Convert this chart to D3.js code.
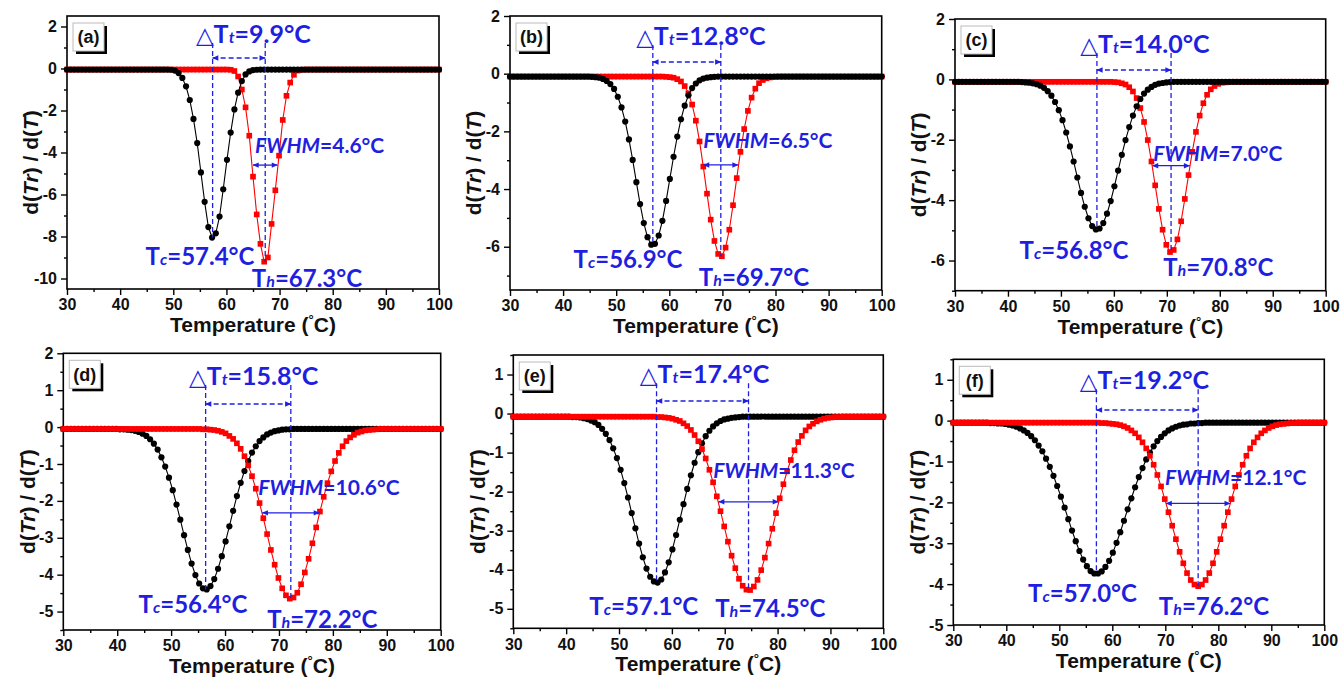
<!DOCTYPE html>
<html><head><meta charset="utf-8">
<script src="https://cdn.jsdelivr.net/npm/d3@7"></script>
<style>body{margin:0;background:#fff}svg{display:block}</style>
</head><body>
<svg id="c" width="1340" height="679"></svg>
<script>
// ---------------- DATA ----------------
const temps = [
30,30.7,31.4,32.1,32.8,33.5,34.2,34.9,35.6,36.3,
37,37.7,38.4,39.1,39.8,40.5,41.2,41.9,42.6,43.3,
44,44.7,45.4,46.1,46.8,47.5,48.2,48.9,49.6,50.3,
51,51.7,52.4,53.1,53.8,54.5,55.2,55.9,56.6,57.3,
58,58.7,59.4,60.1,60.8,61.5,62.2,62.9,63.6,64.3,
65,65.7,66.4,67.1,67.8,68.5,69.2,69.9,70.6,71.3,
72,72.7,73.4,74.1,74.8,75.5,76.2,76.9,77.6,78.3,
79,79.7,80.4,81.1,81.8,82.5,83.2,83.9,84.6,85.3,
86,86.7,87.4,88.1,88.8,89.5,90.2,90.9,91.6,92.3,
93,93.7,94.4,95.1,95.8,96.5,97.2,97.9,98.6,99.3,
100];

const coolA = [
-0.05,-0.05,-0.05,-0.05,-0.05,-0.05,-0.05,-0.05,-0.05,-0.05,
-0.05,-0.05,-0.05,-0.05,-0.05,-0.05,-0.05,-0.05,-0.05,-0.05,
-0.05,-0.05,-0.05,-0.05,-0.05,-0.05,-0.05,-0.05,-0.06,-0.10,
-0.22,-0.45,-0.85,-1.50,-2.40,-3.55,-4.95,-6.35,-7.55,-8.05,
-7.85,-7.05,-5.75,-4.35,-3.05,-1.95,-1.15,-0.60,-0.28,-0.14,
-0.08,-0.06,-0.05,-0.05,-0.05,-0.05,-0.05,-0.05,-0.05,-0.05,
-0.05,-0.05,-0.05,-0.05,-0.05,-0.05,-0.05,-0.05,-0.05,-0.05,
-0.05,-0.05,-0.05,-0.05,-0.05,-0.05,-0.05,-0.05,-0.05,-0.05,
-0.05,-0.05,-0.05,-0.05,-0.05,-0.05,-0.05,-0.05,-0.05,-0.05,
-0.05,-0.05,-0.05,-0.05,-0.05,-0.05,-0.05,-0.05,-0.05,-0.05,
-0.05];
const heatA = [
-0.05,-0.05,-0.05,-0.05,-0.05,-0.05,-0.05,-0.05,-0.05,-0.05,
-0.05,-0.05,-0.05,-0.05,-0.05,-0.05,-0.05,-0.05,-0.05,-0.05,
-0.05,-0.05,-0.05,-0.05,-0.05,-0.05,-0.05,-0.05,-0.05,-0.05,
-0.05,-0.05,-0.05,-0.05,-0.05,-0.05,-0.05,-0.05,-0.05,-0.05,
-0.05,-0.05,-0.05,-0.05,-0.06,-0.12,-0.38,-1.00,-1.85,-3.20,
-5.15,-6.95,-8.35,-9.20,-9.00,-7.40,-5.80,-4.15,-2.45,-1.30,
-0.67,-0.30,-0.10,-0.06,-0.05,-0.05,-0.05,-0.05,-0.05,-0.05,
-0.05,-0.05,-0.05,-0.05,-0.05,-0.05,-0.05,-0.05,-0.05,-0.05,
-0.05,-0.05,-0.05,-0.05,-0.05,-0.05,-0.05,-0.05,-0.05,-0.05,
-0.05,-0.05,-0.05,-0.05,-0.05,-0.05,-0.05,-0.05,-0.05,-0.05,
-0.05];

const coolB = [
-0.10,-0.10,-0.10,-0.10,-0.10,-0.10,-0.10,-0.10,-0.10,-0.10,
-0.10,-0.10,-0.10,-0.10,-0.10,-0.10,-0.10,-0.10,-0.10,-0.10,
-0.10,-0.10,-0.11,-0.12,-0.14,-0.18,-0.25,-0.36,-0.53,-0.80,
-1.17,-1.66,-2.28,-2.99,-3.76,-4.52,-5.18,-5.67,-5.93,-5.90,
-5.61,-5.10,-4.41,-3.65,-2.88,-2.18,-1.58,-1.11,-0.75,-0.50,
-0.34,-0.23,-0.17,-0.14,-0.12,-0.11,-0.10,-0.10,-0.10,-0.10,
-0.10,-0.10,-0.10,-0.10,-0.10,-0.10,-0.10,-0.10,-0.10,-0.10,
-0.10,-0.10,-0.10,-0.10,-0.10,-0.10,-0.10,-0.10,-0.10,-0.10,
-0.10,-0.10,-0.10,-0.10,-0.10,-0.10,-0.10,-0.10,-0.10,-0.10,
-0.10,-0.10,-0.10,-0.10,-0.10,-0.10,-0.10,-0.10,-0.10,-0.10,
-0.10];
const heatB = [
-0.10,-0.10,-0.10,-0.10,-0.10,-0.10,-0.10,-0.10,-0.10,-0.10,
-0.10,-0.10,-0.10,-0.10,-0.10,-0.10,-0.10,-0.10,-0.10,-0.10,
-0.10,-0.10,-0.10,-0.10,-0.10,-0.10,-0.10,-0.10,-0.10,-0.10,
-0.10,-0.10,-0.10,-0.10,-0.10,-0.10,-0.10,-0.10,-0.10,-0.10,
-0.10,-0.10,-0.11,-0.12,-0.14,-0.19,-0.27,-0.43,-0.68,-1.07,
-1.63,-2.35,-3.22,-4.16,-5.06,-5.80,-6.25,-6.33,-6.03,-5.41,
-4.56,-3.62,-2.71,-1.92,-1.29,-0.83,-0.52,-0.33,-0.22,-0.16,
-0.13,-0.11,-0.10,-0.10,-0.10,-0.10,-0.10,-0.10,-0.10,-0.10,
-0.10,-0.10,-0.10,-0.10,-0.10,-0.10,-0.10,-0.10,-0.10,-0.10,
-0.10,-0.10,-0.10,-0.10,-0.10,-0.10,-0.10,-0.10,-0.10,-0.10,
-0.10];

const coolC = [
-0.08,-0.08,-0.08,-0.08,-0.08,-0.08,-0.08,-0.08,-0.08,-0.08,
-0.08,-0.08,-0.08,-0.08,-0.08,-0.08,-0.08,-0.08,-0.09,-0.10,
-0.11,-0.13,-0.16,-0.21,-0.28,-0.39,-0.54,-0.75,-1.02,-1.35,
-1.76,-2.22,-2.72,-3.25,-3.76,-4.22,-4.60,-4.86,-4.97,-4.94,
-4.76,-4.45,-4.03,-3.54,-3.02,-2.50,-2.01,-1.58,-1.20,-0.89,
-0.65,-0.47,-0.34,-0.25,-0.18,-0.14,-0.12,-0.10,-0.09,-0.08,
-0.08,-0.08,-0.08,-0.08,-0.08,-0.08,-0.08,-0.08,-0.08,-0.08,
-0.08,-0.08,-0.08,-0.08,-0.08,-0.08,-0.08,-0.08,-0.08,-0.08,
-0.08,-0.08,-0.08,-0.08,-0.08,-0.08,-0.08,-0.08,-0.08,-0.08,
-0.08,-0.08,-0.08,-0.08,-0.08,-0.08,-0.08,-0.08,-0.08,-0.08,
-0.08];
const heatC = [
-0.08,-0.08,-0.08,-0.08,-0.08,-0.08,-0.08,-0.08,-0.08,-0.08,
-0.08,-0.08,-0.08,-0.08,-0.08,-0.08,-0.08,-0.08,-0.08,-0.08,
-0.08,-0.08,-0.08,-0.08,-0.08,-0.08,-0.08,-0.08,-0.08,-0.08,
-0.08,-0.08,-0.08,-0.08,-0.08,-0.08,-0.08,-0.08,-0.08,-0.08,
-0.08,-0.08,-0.08,-0.09,-0.10,-0.13,-0.17,-0.26,-0.40,-0.62,
-0.95,-1.41,-2.01,-2.72,-3.51,-4.29,-4.98,-5.48,-5.72,-5.65,
-5.30,-4.70,-3.96,-3.17,-2.40,-1.74,-1.20,-0.79,-0.51,-0.33,
-0.22,-0.15,-0.11,-0.10,-0.09,-0.08,-0.08,-0.08,-0.08,-0.08,
-0.08,-0.08,-0.08,-0.08,-0.08,-0.08,-0.08,-0.08,-0.08,-0.08,
-0.08,-0.08,-0.08,-0.08,-0.08,-0.08,-0.08,-0.08,-0.08,-0.08,
-0.08];

const coolD = [
-0.05,-0.05,-0.05,-0.05,-0.05,-0.05,-0.05,-0.05,-0.05,-0.05,
-0.05,-0.05,-0.05,-0.05,-0.05,-0.06,-0.06,-0.07,-0.08,-0.10,
-0.13,-0.18,-0.24,-0.33,-0.45,-0.61,-0.82,-1.07,-1.37,-1.71,
-2.10,-2.51,-2.93,-3.33,-3.70,-4.01,-4.24,-4.37,-4.40,-4.31,
-4.12,-3.84,-3.50,-3.10,-2.69,-2.27,-1.87,-1.51,-1.19,-0.92,
-0.69,-0.52,-0.38,-0.28,-0.20,-0.15,-0.11,-0.09,-0.07,-0.06,
-0.06,-0.05,-0.05,-0.05,-0.05,-0.05,-0.05,-0.05,-0.05,-0.05,
-0.05,-0.05,-0.05,-0.05,-0.05,-0.05,-0.05,-0.05,-0.05,-0.05,
-0.05,-0.05,-0.05,-0.05,-0.05,-0.05,-0.05,-0.05,-0.05,-0.05,
-0.05,-0.05,-0.05,-0.05,-0.05,-0.05,-0.05,-0.05,-0.05,-0.05,
-0.05];
const heatD = [
-0.05,-0.05,-0.05,-0.05,-0.05,-0.05,-0.05,-0.05,-0.05,-0.05,
-0.05,-0.05,-0.05,-0.05,-0.05,-0.05,-0.05,-0.05,-0.05,-0.05,
-0.05,-0.05,-0.05,-0.05,-0.05,-0.05,-0.05,-0.05,-0.05,-0.05,
-0.05,-0.05,-0.05,-0.05,-0.05,-0.05,-0.05,-0.06,-0.06,-0.07,
-0.08,-0.10,-0.13,-0.17,-0.24,-0.32,-0.44,-0.59,-0.79,-1.04,
-1.33,-1.67,-2.06,-2.47,-2.90,-3.33,-3.73,-4.09,-4.37,-4.56,
-4.65,-4.62,-4.49,-4.26,-3.94,-3.57,-3.15,-2.72,-2.29,-1.89,
-1.52,-1.20,-0.92,-0.70,-0.52,-0.38,-0.28,-0.21,-0.15,-0.12,
-0.09,-0.08,-0.07,-0.06,-0.05,-0.05,-0.05,-0.05,-0.05,-0.05,
-0.05,-0.05,-0.05,-0.05,-0.05,-0.05,-0.05,-0.05,-0.05,-0.05,
-0.05];

const coolE = [
-0.08,-0.08,-0.08,-0.08,-0.08,-0.08,-0.08,-0.08,-0.08,-0.08,
-0.08,-0.08,-0.08,-0.08,-0.08,-0.08,-0.09,-0.09,-0.10,-0.12,
-0.14,-0.18,-0.22,-0.29,-0.39,-0.52,-0.68,-0.89,-1.14,-1.44,
-1.78,-2.15,-2.55,-2.94,-3.33,-3.68,-3.97,-4.18,-4.30,-4.33,
-4.25,-4.07,-3.81,-3.48,-3.11,-2.72,-2.32,-1.93,-1.58,-1.26,
-0.99,-0.76,-0.58,-0.44,-0.33,-0.25,-0.19,-0.15,-0.13,-0.11,
-0.10,-0.09,-0.08,-0.08,-0.08,-0.08,-0.08,-0.08,-0.08,-0.08,
-0.08,-0.08,-0.08,-0.08,-0.08,-0.08,-0.08,-0.08,-0.08,-0.08,
-0.08,-0.08,-0.08,-0.08,-0.08,-0.08,-0.08,-0.08,-0.08,-0.08,
-0.08,-0.08,-0.08,-0.08,-0.08,-0.08,-0.08,-0.08,-0.08,-0.08,
-0.08];
const heatE = [
-0.08,-0.08,-0.08,-0.08,-0.08,-0.08,-0.08,-0.08,-0.08,-0.08,
-0.08,-0.08,-0.08,-0.08,-0.08,-0.08,-0.08,-0.08,-0.08,-0.08,
-0.08,-0.08,-0.08,-0.08,-0.08,-0.08,-0.08,-0.08,-0.08,-0.08,
-0.08,-0.08,-0.08,-0.08,-0.08,-0.08,-0.08,-0.08,-0.08,-0.09,
-0.09,-0.10,-0.11,-0.13,-0.16,-0.19,-0.25,-0.32,-0.42,-0.55,
-0.71,-0.91,-1.15,-1.44,-1.76,-2.12,-2.50,-2.89,-3.28,-3.64,
-3.96,-4.23,-4.41,-4.51,-4.52,-4.43,-4.26,-4.01,-3.69,-3.33,
-2.95,-2.55,-2.17,-1.81,-1.48,-1.19,-0.94,-0.73,-0.57,-0.43,
-0.33,-0.26,-0.20,-0.16,-0.13,-0.11,-0.10,-0.09,-0.09,-0.08,
-0.08,-0.08,-0.08,-0.08,-0.08,-0.08,-0.08,-0.08,-0.08,-0.08,
-0.08];

const coolF = [
-0.05,-0.05,-0.05,-0.05,-0.05,-0.05,-0.05,-0.05,-0.05,-0.05,
-0.06,-0.06,-0.07,-0.07,-0.08,-0.10,-0.12,-0.15,-0.19,-0.24,
-0.30,-0.38,-0.48,-0.61,-0.75,-0.93,-1.13,-1.35,-1.60,-1.86,
-2.13,-2.41,-2.69,-2.95,-3.19,-3.40,-3.56,-3.68,-3.74,-3.74,
-3.69,-3.58,-3.43,-3.23,-2.99,-2.73,-2.45,-2.17,-1.90,-1.63,
-1.38,-1.16,-0.95,-0.78,-0.63,-0.50,-0.40,-0.31,-0.24,-0.19,
-0.15,-0.12,-0.10,-0.09,-0.07,-0.07,-0.06,-0.06,-0.05,-0.05,
-0.05,-0.05,-0.05,-0.05,-0.05,-0.05,-0.05,-0.05,-0.05,-0.05,
-0.05,-0.05,-0.05,-0.05,-0.05,-0.05,-0.05,-0.05,-0.05,-0.05,
-0.05,-0.05,-0.05,-0.05,-0.05,-0.05,-0.05,-0.05,-0.05,-0.05,
-0.05];
const heatF = [
-0.05,-0.05,-0.05,-0.05,-0.05,-0.05,-0.05,-0.05,-0.05,-0.05,
-0.05,-0.05,-0.05,-0.05,-0.05,-0.05,-0.05,-0.05,-0.05,-0.05,
-0.05,-0.05,-0.05,-0.05,-0.05,-0.05,-0.05,-0.05,-0.05,-0.05,
-0.05,-0.05,-0.05,-0.05,-0.05,-0.05,-0.05,-0.05,-0.05,-0.05,
-0.06,-0.06,-0.07,-0.08,-0.09,-0.11,-0.14,-0.18,-0.24,-0.31,
-0.41,-0.53,-0.68,-0.86,-1.08,-1.33,-1.61,-1.92,-2.24,-2.57,
-2.90,-3.21,-3.49,-3.73,-3.90,-4.01,-4.05,-4.01,-3.90,-3.73,
-3.49,-3.21,-2.90,-2.57,-2.24,-1.92,-1.61,-1.33,-1.08,-0.86,
-0.68,-0.53,-0.41,-0.31,-0.24,-0.18,-0.14,-0.11,-0.09,-0.08,
-0.07,-0.06,-0.06,-0.05,-0.05,-0.05,-0.05,-0.05,-0.05,-0.05,
-0.05];

const panelTags = ["(a)","(b)","(c)","(d)","(e)","(f)"];
const Tc   = [57.4, 56.9, 56.8, 56.4, 57.1, 57.0];
const Th   = [67.3, 69.7, 70.8, 72.2, 74.5, 76.2];
const dTt  = [9.9, 12.8, 14.0, 15.8, 17.4, 19.2];
const fwhm = [4.6, 6.5, 7.0, 10.6, 11.3, 12.1];
const xTicks = [30,40,50,60,70,80,90,100];
const yTicksA = [-10,-8,-6,-4,-2,0,2];
const yTicksB = [-6,-4,-2,0,2];
const yTicksC = [-6,-4,-2,0,2];
const yTicksD = [-5,-4,-3,-2,-1,0,1,2];
const yTicksE = [-5,-4,-3,-2,-1,0,1];
const yTicksF = [-5,-4,-3,-2,-1,0,1];

const coolSeries = [coolA, coolB, coolC, coolD, coolE, coolF];
const heatSeries = [heatA, heatB, heatC, heatD, heatE, heatF];
const yTickSets = [yTicksA, yTicksB, yTicksC, yTicksD, yTicksE, yTicksF];

// ---------------- LAYOUT ----------------
const layout = [
 {x0:67,   x1:439,    y0:16,    y1:289,   yd:[-10.5,2.5], minor:1,   blackTop:true,  dtBase:27,   arrowDy:42,   tcLab:[133,249],   thLab:[240,271],     fwLab:[188,137.3]},
 {x0:510,  x1:881.7,  y0:16,    y1:290,   yd:[-7.5,2],    minor:1,   blackTop:true,  dtBase:29,   arrowDy:46,   tcLab:[118,252.3], thLab:[244,270],     fwLab:[193.3,131.7]},
 {x0:955,  x1:1325.7, y0:19,    y1:290.7, yd:[-7,2],      minor:1,   blackTop:true,  dtBase:34,   arrowDy:51,   tcLab:[119,240.3], thLab:[263.3,257],   fwLab:[198.3,141.7]},
 {x0:63.3, x1:440.7,  y0:353.3, y1:630,   yd:[-5.5,2],    minor:0.5, blackTop:false, dtBase:31.7, arrowDy:50.7, tcLab:[129.7,260], thLab:[259,275],     fwLab:[195,141.7]},
 {x0:513.3,x1:883.3,  y0:355,   y1:628.3, yd:[-5.5,1.5],  minor:0.5, blackTop:false, dtBase:28.3, arrowDy:46,   tcLab:[130.5,260], thLab:[257,261.7],   fwLab:[200,122.7]},
 {x0:953.3,x1:1324.3, y0:359.3, y1:625,   yd:[-5,1.5],    minor:0.5, blackTop:false, dtBase:30,   arrowDy:50.7, tcLab:[129.2,242.4], thLab:[260.7,255.7], fwLab:[211.7,125.7]}
];

const BLUE = "#1f1fe0";
const AXF = "'Liberation Sans', Arial, sans-serif";
const ANF = "Lato, 'Open Sans', sans-serif";

const svg = d3.select("#c");
const defs = svg.append("defs");
defs.append("marker").attr("id","ah").attr("viewBox","0 0 10 10")
  .attr("refX",9.5).attr("refY",5).attr("markerWidth",7).attr("markerHeight",6)
  .attr("markerUnits","userSpaceOnUse").attr("orient","auto-start-reverse")
  .append("path").attr("d","M0,0.5L10,5L0,9.5Z").attr("fill",BLUE);

layout.forEach((L, p) => {
  const g = svg.append("g");
  const x = d3.scaleLinear().domain([30,100]).range([L.x0, L.x1]);
  const y = d3.scaleLinear().domain(L.yd).range([L.y1, L.y0]);
  const cool = coolSeries[p], heat = heatSeries[p];

  g.append("g").attr("transform",`translate(0,${L.y1})`)
    .call(d3.axisBottom(x).tickValues(xTicks).tickSize(6).tickPadding(4).tickFormat(d=>String(d)));
  g.append("g").attr("transform",`translate(0,${L.y1})`)
    .call(d3.axisBottom(x).tickValues(d3.range(35,100,10)).tickSize(3).tickFormat(""));
  g.append("g").attr("transform",`translate(${L.x0},0)`)
    .call(d3.axisLeft(y).tickValues(yTickSets[p]).tickSize(6).tickPadding(4).tickFormat(d=>String(d)));
  const majors = new Set(yTickSets[p].map(v=>v.toFixed(2)));
  const minorVals = d3.range(Math.ceil(L.yd[0]/L.minor)*L.minor, L.yd[1]+1e-9, L.minor)
     .filter(v => !majors.has(v.toFixed(2)));
  g.append("g").attr("transform",`translate(${L.x0},0)`)
    .call(d3.axisLeft(y).tickValues(minorVals).tickSize(3).tickFormat(""));
  g.selectAll(".domain").remove();
  g.selectAll(".tick line").attr("stroke","#000").attr("stroke-width",1.4);
  g.selectAll(".tick text").attr("font-family",AXF).attr("font-weight","bold")
    .attr("font-size",16).attr("fill","#111");

  g.append("rect").attr("x",L.x0).attr("y",L.y0).attr("width",L.x1-L.x0).attr("height",L.y1-L.y0)
    .attr("fill","none").attr("stroke","#000").attr("stroke-width",1.6);

  const xt = g.append("text").attr("x",(L.x0+L.x1)/2).attr("y",L.y1+43)
    .attr("text-anchor","middle").attr("font-family",AXF).attr("font-weight","bold")
    .attr("font-size",21).attr("fill","#111");
  xt.append("tspan").text("Temperature (");
  xt.append("tspan").attr("font-size",13).attr("dy",-8).text("°");
  xt.append("tspan").attr("dy",8).text("C)");

  const cy = (L.y0+L.y1)/2 + 10, cx = L.x0 - 36;
  const yt = g.append("text").attr("transform",`translate(${cx},${cy}) rotate(-90)`)
    .attr("text-anchor","middle").attr("dy","0.35em").attr("font-family",AXF)
    .attr("font-weight","bold").attr("font-size",21).attr("fill","#111");
  yt.append("tspan").text("d(");
  yt.append("tspan").attr("font-style","italic").text("Tr");
  yt.append("tspan").text(") / d(");
  yt.append("tspan").attr("font-style","italic").text("T");
  yt.append("tspan").text(")");

  const lineGen = d3.line().x((d,i)=>x(temps[i])).y(d=>y(d));
  function drawCool(){
    g.append("path").datum(cool).attr("d",lineGen).attr("fill","none").attr("stroke","#000").attr("stroke-width",1.1);
    g.append("g").selectAll("circle").data(cool).join("circle")
      .attr("cx",(d,i)=>x(temps[i])).attr("cy",d=>y(d)).attr("r",3.1).attr("fill","#000");
  }
  function drawHeat(){
    g.append("path").datum(heat).attr("d",lineGen).attr("fill","none").attr("stroke","#ff0000").attr("stroke-width",1.1);
    const s = d3.symbol().type(d3.symbolSquare).size(32);
    g.append("g").selectAll("path").data(heat).join("path")
      .attr("d",s).attr("transform",(d,i)=>`translate(${x(temps[i])},${y(d)})`).attr("fill","#ff0000");
  }
  if (L.blackTop){ drawHeat(); drawCool(); } else { drawCool(); drawHeat(); }

  const bx = L.x0+6, by = L.y0+7, bw = 31, bh = 28;
  g.append("rect").attr("x",bx+3).attr("y",by+3).attr("width",bw).attr("height",bh).attr("fill","#000");
  g.append("rect").attr("x",bx).attr("y",by).attr("width",bw).attr("height",bh)
    .attr("fill","#fff").attr("stroke","#bbb").attr("stroke-width",1);
  g.append("text").attr("x",bx+bw/2).attr("y",by+bh/2).attr("dy","0.36em")
    .attr("text-anchor","middle").attr("font-family",AXF).attr("font-weight","bold")
    .attr("font-size",18).attr("fill","#111").text(panelTags[p]);

  const ag = g.append("g");
  const xc = x(Tc[p]), xh = x(Th[p]);
  const yTop = L.y0 + L.dtBase;
  ag.append("line").attr("x1",xc).attr("x2",xc).attr("y1",yTop).attr("y2",y(d3.min(cool)))
    .attr("stroke",BLUE).attr("stroke-width",1.3).attr("stroke-dasharray","5,3");
  ag.append("line").attr("x1",xh).attr("x2",xh).attr("y1",yTop).attr("y2",y(d3.min(heat)))
    .attr("stroke",BLUE).attr("stroke-width",1.3).attr("stroke-dasharray","5,3");
  ag.append("line").attr("x1",xc).attr("x2",xh).attr("y1",L.y0+L.arrowDy).attr("y2",L.y0+L.arrowDy)
    .attr("stroke",BLUE).attr("stroke-width",1.3).attr("stroke-dasharray","5,3")
    .attr("marker-start","url(#ah)").attr("marker-end","url(#ah)");
  const yHalf = y(d3.min(heat)/2);
  ag.append("line").attr("x1",x(Th[p]-fwhm[p]/2)).attr("x2",x(Th[p]+fwhm[p]/2))
    .attr("y1",yHalf).attr("y2",yHalf).attr("stroke",BLUE).attr("stroke-width",1.3)
    .attr("marker-start","url(#ah)").attr("marker-end","url(#ah)");

  const dt = ag.append("text").attr("y",yTop).attr("font-family",ANF)
    .attr("font-size",25).attr("font-weight","bold").attr("fill",BLUE);
  const tri = dt.append("tspan").attr("font-family","'DejaVu Sans', sans-serif").attr("font-weight","normal").attr("font-size",23).text("△");
  dt.append("tspan").text("T");
  dt.append("tspan").attr("font-style","italic").attr("font-size",16).text("t");
  dt.append("tspan").text("=" + dTt[p].toFixed(1) + "°C");
  const tw = tri.node().getComputedTextLength();
  dt.attr("x", xc - tw + 1);

  const fw = ag.append("text").attr("x",L.x0+L.fwLab[0]).attr("y",L.y0+L.fwLab[1])
    .attr("font-family",ANF).attr("font-size",21).attr("font-weight","bold").attr("fill",BLUE);
  fw.append("tspan").attr("font-style","italic").text("FWHM");
  fw.append("tspan").text("=" + fwhm[p].toFixed(1) + "°C");

  function tLabel(pos, sub, val){
    const t = ag.append("text").attr("x",L.x0+pos[0]).attr("y",L.y0+pos[1])
      .attr("text-anchor","middle").attr("font-family",ANF).attr("font-size",24)
      .attr("font-weight","bold").attr("fill",BLUE);
    t.append("tspan").text("T");
    t.append("tspan").attr("font-style","italic").attr("font-size",16).text(sub);
    t.append("tspan").text("=" + val.toFixed(1) + "°C");
  }
  tLabel(L.tcLab, "c", Tc[p]);
  tLabel(L.thLab, "h", Th[p]);
});
</script>
</body></html>
